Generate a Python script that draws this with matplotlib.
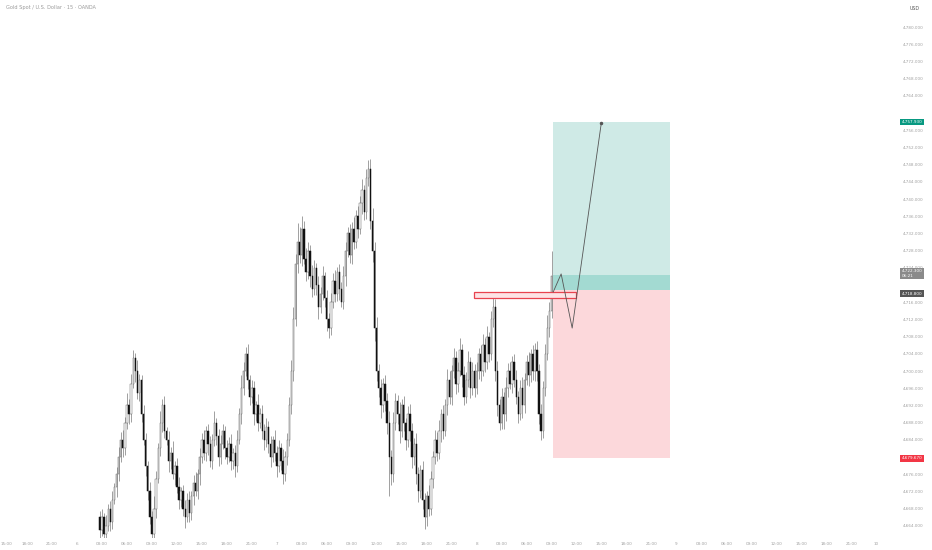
import matplotlib.pyplot as plt
import matplotlib.transforms as mtransforms
from matplotlib.patches import Rectangle

# 15-minute candles
closes = [
    4663, 4666, 4662, 4664, 4668, 4665, 4670, 4673, 4676, 4680,
    4684, 4682, 4688, 4692, 4690, 4697, 4703, 4700, 4695, 4698,
    4690, 4684, 4678, 4672, 4666, 4662, 4668, 4675, 4682, 4688,
    4692, 4686, 4684, 4679, 4681, 4676, 4678, 4673, 4670, 4672,
    4668, 4666, 4670, 4667, 4671, 4674, 4672, 4676, 4680, 4684,
    4681, 4686, 4683, 4679, 4684, 4688, 4685, 4680, 4683, 4686,
    4682, 4680, 4683, 4679, 4681, 4678, 4684, 4690, 4696, 4700,
    4704, 4698, 4694, 4696, 4690, 4692, 4688, 4690, 4686, 4684,
    4687, 4683, 4680, 4684, 4681, 4678, 4682, 4679, 4676, 4680,
    4684, 4692, 4700, 4712, 4725, 4730, 4727, 4733, 4726, 4723,
    4728, 4722, 4719, 4724, 4720, 4715, 4718, 4722, 4717, 4712,
    4710, 4716, 4721, 4718, 4723, 4719, 4716, 4722, 4728, 4732,
    4727, 4733, 4730, 4736, 4733, 4739, 4742, 4737, 4745, 4747,
    4735, 4728, 4710, 4700, 4696, 4692, 4697, 4693, 4688, 4680,
    4676, 4688, 4693, 4690, 4686, 4692, 4688, 4684, 4690, 4686,
    4680, 4683, 4676, 4672, 4677, 4670, 4666, 4671, 4668, 4675,
    4680, 4684, 4681, 4686, 4690, 4686, 4692, 4698, 4694, 4700,
    4703, 4697, 4700, 4705, 4699, 4694, 4698, 4702, 4696, 4700,
    4696, 4700, 4704, 4700, 4706, 4702, 4708, 4704, 4712, 4715,
    4700, 4692, 4688, 4694, 4690, 4696, 4700, 4697, 4702, 4698,
    4694, 4690, 4696, 4692, 4698, 4702, 4699, 4704, 4700, 4705,
    4700, 4690, 4686, 4696, 4704, 4710, 4714, 4722,
]
first_open = 4666
upper_wick = [
    1.5, 2.0, 1.0, 2.5, 1.2, 1.8, 2.2, 1.0, 1.6, 2.4,
    1.8, 2.2, 1.4, 3.0, 1.6, 2.4, 2.0, 1.2, 2.6, 1.4,
    1.2, 2.0, 1.6, 1.0, 2.2, 1.4, 3.0, 1.8, 1.2, 2.6,
    1.6, 2.2, 1.0, 2.0, 1.4, 2.8, 1.2, 1.8, 2.4, 1.0,
    1.4, 2.0, 1.6, 2.2, 1.0, 1.8, 2.6, 1.2, 2.0, 1.6,
    2.4, 1.2, 1.8, 2.0, 1.4, 2.6, 1.0, 1.6, 2.2, 1.8,
    1.2, 2.0, 1.6, 2.4, 1.0, 1.8, 2.2, 1.4, 3.0, 2.0,
    1.6, 2.4, 1.2, 2.0, 1.8, 1.0, 2.6, 1.4, 2.0, 1.6,
    2.2, 1.4, 1.8, 1.0, 2.4, 1.6, 2.0, 1.2, 2.8, 1.4,
    1.6, 2.0, 2.6, 3.0, 2.2, 4.5, 3.6, 3.0, 1.8, 2.6,
    2.0, 1.4, 2.6, 1.8, 1.2, 2.2, 1.6, 2.4, 1.0, 1.8,
    1.4, 2.2, 1.8, 2.6, 1.2, 2.0, 1.6, 2.4, 2.0, 1.4,
    2.2, 1.6, 2.8, 1.4, 2.4, 1.8, 2.6, 1.2, 2.0, 2.0,
    2.4, 3.0, 2.0, 2.6, 1.6, 2.2, 1.4, 2.0, 1.8, 2.6,
    1.6, 2.4, 2.0, 1.4, 2.8, 1.6, 2.2, 1.2, 1.8, 2.4,
    2.0, 1.4, 2.6, 1.8, 1.2, 2.2, 1.6, 1.0, 2.4, 1.8,
    1.4, 2.2, 1.8, 2.6, 1.2, 2.0, 1.6, 2.4, 2.0, 1.4,
    2.4, 1.6, 2.0, 2.8, 1.4, 2.2, 1.8, 2.6, 1.2, 2.0,
    1.6, 2.2, 1.4, 2.0, 2.6, 1.8, 2.4, 1.2, 2.0, 3.2,
    1.8, 2.4, 1.6, 2.0, 1.2, 2.6, 1.8, 2.2, 1.4, 2.0,
    2.2, 1.4, 2.0, 2.6, 1.6, 1.8, 2.4, 1.2, 2.0, 1.6,
    2.0, 1.6, 2.4, 1.8, 2.2, 3.0, 2.0, 6.0,
]
lower_wick = [
    2.0, 1.4, 2.8, 1.6, 1.2, 2.2, 1.8, 1.0, 2.4, 1.6,
    1.2, 2.0, 1.6, 1.4, 2.2, 1.8, 1.0, 2.6, 1.4, 2.0,
    1.8, 1.2, 2.4, 2.0, 1.6, 2.5, 1.4, 2.2, 1.0, 1.8,
    2.2, 1.6, 1.2, 2.4, 1.8, 1.0, 2.6, 1.4, 2.0, 1.6,
    1.8, 2.4, 1.2, 2.0, 1.6, 2.2, 1.0, 1.8, 2.4, 1.4,
    1.6, 2.0, 2.6, 1.2, 1.8, 1.4, 2.2, 2.0, 1.6, 1.2,
    2.4, 1.6, 1.2, 2.0, 1.8, 2.6, 1.4, 1.0, 2.2, 1.6,
    1.2, 2.2, 1.8, 1.4, 2.6, 1.6, 2.0, 1.2, 1.8, 2.4,
    1.6, 2.0, 2.4, 1.2, 1.8, 2.6, 1.4, 2.0, 2.2, 1.6,
    1.8, 1.4, 2.0, 2.4, 1.6, 2.2, 1.8, 2.6, 1.2, 2.0,
    1.6, 2.4, 1.8, 1.2, 2.2, 2.8, 1.6, 1.4, 2.0, 2.6,
    2.2, 1.6, 1.4, 2.0, 1.8, 2.4, 1.2, 1.6, 2.2, 1.4,
    1.8, 2.2, 1.6, 1.4, 2.0, 1.2, 2.4, 1.8, 1.6, 2.0,
    2.0, 2.6, 3.0, 2.4, 2.0, 2.8, 1.6, 2.2, 2.6, 9.0,
    2.4, 1.8, 1.6, 2.2, 2.8, 1.4, 2.0, 2.4, 1.6, 2.2,
    2.6, 1.8, 2.2, 2.4, 1.6, 2.0, 2.8, 2.0, 1.8, 1.4,
    2.2, 1.6, 2.0, 1.4, 2.4, 1.8, 1.2, 2.2, 1.6, 2.0,
    1.6, 2.4, 1.8, 1.2, 2.6, 2.0, 1.4, 1.8, 2.2, 1.6,
    2.0, 1.4, 1.8, 2.4, 1.2, 2.2, 1.6, 2.0, 1.4, 1.8,
    2.2, 2.4, 1.8, 1.4, 3.5, 1.6, 2.0, 1.2, 2.2, 1.8,
    1.6, 2.0, 1.4, 3.0, 1.8, 1.2, 2.4, 1.6, 2.0, 2.2,
    2.4, 2.2, 2.0, 1.6, 1.8, 1.4, 2.0, 1.6,
]

# long position tool
pos_start, pos_end = 217.5, 274
entry_price = 4718.8
target_price = 4757.93
stop_price = 4679.67
last_price = 4722.3

# projected path drawn on the position
path_x = [217.8, 221.6, 226.9, 240.9]
path_y = [4718.4, 4722.6, 4710.0, 4757.7]

# red outlined zone
zone_x0, zone_x1 = 179.8, 228.8
zone_lo, zone_hi = 4717.0, 4718.4

# axis ticks (those hidden behind the coloured price labels are left out)
price_ticks = [4664, 4668, 4672, 4676, 4684, 4688, 4692, 4696, 4700, 4704,
               4708, 4712, 4716, 4724, 4728, 4732, 4736, 4740, 4744, 4748,
               4752, 4756, 4764, 4768, 4772, 4776, 4780]

time_pos = [-45, -35, -23, -11, 1, 13, 25, 37, 49, 61, 73, 85,
            97, 109, 121, 133, 145, 157, 169, 181, 193, 205, 217, 229,
            241, 253, 265, 277, 289, 301, 313, 325, 337, 349, 361, 373]
time_text = ["15:00", "18:00", "21:00", "6",
             "03:00", "06:00", "09:00", "12:00", "15:00", "18:00", "21:00", "7",
             "03:00", "06:00", "09:00", "12:00", "15:00", "18:00", "21:00", "8",
             "03:00", "06:00", "09:00", "12:00", "15:00", "18:00", "21:00", "9",
             "03:00", "06:00", "09:00", "12:00", "15:00", "18:00", "21:00", "10"]

opens = [first_open] + closes[:-1]

fig = plt.figure(figsize=(9.32, 5.5), dpi=100)
ax = fig.add_axes([0, 0.022, 0.9603, 0.978])

# position boxes
ax.add_patch(Rectangle((pos_start, entry_price), pos_end - pos_start, target_price - entry_price,
                       facecolor="#cfeae6", edgecolor="none", zorder=0))
ax.add_patch(Rectangle((pos_start, entry_price), pos_end - pos_start, last_price - entry_price,
                       facecolor="#a3dad2", edgecolor="none", zorder=0))
ax.add_patch(Rectangle((pos_start, stop_price), pos_end - pos_start, entry_price - stop_price,
                       facecolor="#fcd8db", edgecolor="none", zorder=0))

for i, (o, c, uw, lw) in enumerate(zip(opens, closes, upper_wick, lower_wick)):
    hi = max(o, c) + uw
    lo = min(o, c) - lw
    ax.vlines(i, lo, hi, color="#7a7a7a", linewidth=0.5, zorder=2)
    if c >= o:
        ax.bar(i, max(c - o, 0.3), bottom=o, width=0.65, color="white",
               edgecolor="#666666", linewidth=0.35, zorder=3)
    else:
        ax.bar(i, o - c, bottom=c, width=0.65, color="#111111",
               edgecolor="#111111", linewidth=0.35, zorder=3)

ax.add_patch(Rectangle((zone_x0, zone_lo), zone_x1 - zone_x0, zone_hi - zone_lo,
                       facecolor="#fde3e5", edgecolor="#e8434f", linewidth=0.9, zorder=4))

ax.plot(path_x, path_y, color="#555555", linewidth=0.6, zorder=5)
ax.plot(path_x[-1], path_y[-1], marker="o", markersize=1.5, color="#555555", zorder=5)

ax.set_xlim(-48, 382)
ax.set_ylim(4661.2, 4786.3)

for s in ax.spines.values():
    s.set_visible(False)
ax.yaxis.tick_right()
ax.set_yticks(price_ticks)
ax.set_yticklabels([f"{p:,.3f}" for p in price_ticks])
ax.tick_params(axis="y", length=0, labelsize=3.0, labelcolor="#a0a0a0", pad=6)
ax.set_xticks(time_pos)
ax.set_xticklabels(time_text)
ax.tick_params(axis="x", length=0, labelsize=3.0, labelcolor="#a0a0a0", pad=3)

trans = mtransforms.blended_transform_factory(ax.transAxes, ax.transData)
label_style = dict(transform=trans, fontsize=3.0, color="white", va="center", ha="left")
ax.text(1.0075, target_price, f"{target_price:,.3f}",
        bbox=dict(boxstyle="square,pad=0.3", fc="#089981", ec="none"), **label_style)
ax.text(1.0075, stop_price, f"{stop_price:,.3f}",
        bbox=dict(boxstyle="square,pad=0.3", fc="#f23645", ec="none"), **label_style)
ax.text(1.0075, last_price + 0.4, f"{last_price:,.3f}\n06:21",
        bbox=dict(boxstyle="square,pad=0.3", fc="#8a8a8a", ec="none"), linespacing=1.1,
        **label_style)
ax.text(1.0075, entry_price - 0.8, f"{entry_price:,.3f}",
        bbox=dict(boxstyle="square,pad=0.3", fc="#555555", ec="none"), **label_style)

fig.text(0.006, 0.99, "Gold Spot / U.S. Dollar · 15 · OANDA", fontsize=3.6,
         color="#9a9a9a", va="top", ha="left")
fig.text(0.981, 0.99, "USD", fontsize=3.4, color="#555555", va="top", ha="center")

fig.savefig("out.png", dpi=100, facecolor="white")
